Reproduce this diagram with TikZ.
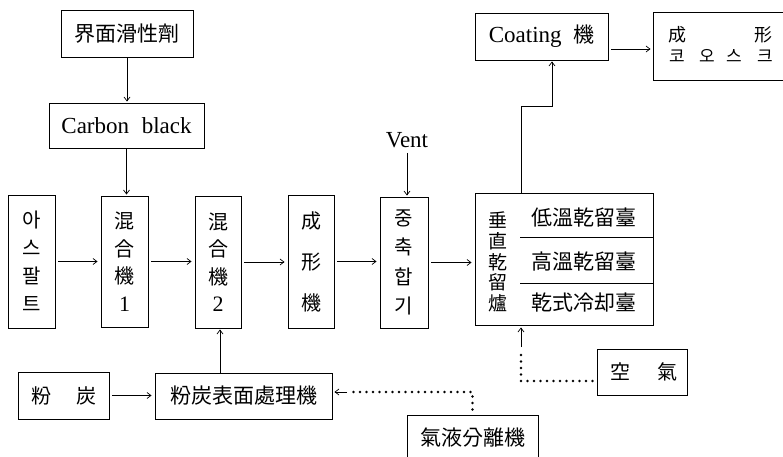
\documentclass[tikz,border=0pt]{standalone}
\usepackage{fontspec}
\setmainfont{Liberation Serif}
\newfontfamily\cjk{Noto Sans CJK KR}
\usetikzlibrary{arrows.meta}
\begin{document}
\begin{tikzpicture}[x=1pt,y=-1pt,
  box/.style={draw, line width=0.9pt, inner sep=0pt, rectangle},
  cj/.style={font=\cjk\fontsize{21}{24}\selectfont},
  vtext/.style={align=center, font=\cjk\fontsize{20}{#1}\selectfont},
  lbl/.style={inner sep=0pt},
  flow/.style={line width=0.7pt, -{Straight Barb[length=4pt,width=6pt]}},
  dots/.style={line width=2.8pt, line cap=round, dash pattern=on 0pt off 6.5pt},
]
\clip (0,0) rectangle (783,456);
\fill[white] (0,0) rectangle (783,456);
% helper coordinates
\coordinate (r49) at (0,49);
\coordinate (r392) at (0,392);
\coordinate (r381) at (0,381);
\coordinate (c220) at (220,0);
\coordinate (c521) at (521,0);
\coordinate (j1) at (521,106);
\coordinate (j2) at (552,106);
\coordinate (d1) at (347,392);
\coordinate (d2) at (352,392);
\coordinate (a1) at (521,347);
\coordinate (a2) at (521,352);

% top boxes
\node[box, cj, minimum width=132pt, minimum height=47pt] (surf) at (127,33.5) {界面滑性劑};
\node[box, minimum width=155pt, minimum height=45pt, font=\fontsize{23}{26}\selectfont] (cb) at (126.5,125.5) {Carbon\hspace{0.3em} black};

% main row
\node[box, vtext=28, minimum width=47pt, minimum height=133pt] (asp) at (31.5,261.5) {아\\스\\팔\\트};
\node[box, vtext=27.5, minimum width=47pt, minimum height=131pt] (mix1) at (124.5,261.5) {混\\合\\機\\{\rmfamily\fontsize{22}{24}\selectfont 1}};
\node[box, vtext=27.5, minimum width=46pt, minimum height=132pt] (mix2) at (218,262) {混\\合\\機\\{\rmfamily\fontsize{22}{24}\selectfont 2}};
\node[box, vtext=41, minimum width=46pt, minimum height=133pt] (form) at (311,261.5) {成\\形\\機};
\node[box, vtext=29.5, minimum width=48pt, minimum height=131pt] (poly) at (404,262.5) {중\\축\\합\\기};
\node[lbl, font=\fontsize{23}{26}\selectfont] (vent) at (407,140) {Vent};

% dryer
\node[box, minimum width=178pt, minimum height=132pt] (dry) at (564,259) {};
\node[lbl, align=center, font=\cjk\fontsize{19}{20.6}\selectfont] (dryv) at (498,262) {垂\\直\\乾\\留\\爐};
\node[lbl, cj] (low) at (583.5,218) {低溫乾留臺};
\node[lbl, cj] (high) at (583.5,262) {高溫乾留臺};
\node[lbl, cj] (cool) at (583.5,303) {乾式冷却臺};
\coordinate (s1) at (520,237);
\coordinate (s2) at (520,283);
\draw[line width=0.8pt] (s1) -- (s1 -| dry.east);
\draw[line width=0.8pt] (s2) -- (s2 -| dry.east);

% coating and coke
\node[box, minimum width=133pt, minimum height=47pt, font=\fontsize{23}{26}\selectfont] (coat) at (541.5,36.5) {Coating\hspace{0.5em}{\cjk\fontsize{21}{24}\selectfont 機}};
\node[box, minimum width=140pt, minimum height=68pt] (coke) at (723,46) {};
\node[lbl, font=\cjk\fontsize{18}{20}\selectfont] (k1) at (677,35) {成};
\node[lbl, font=\cjk\fontsize{18}{20}\selectfont] (k2) at (763,35) {形};
\node[lbl, font=\cjk\fontsize{17}{20}\selectfont] (k3) at (677,56) {코};
\node[lbl, font=\cjk\fontsize{17}{20}\selectfont] (k4) at (707,56) {오};
\node[lbl, font=\cjk\fontsize{17}{20}\selectfont] (k5) at (734,56) {스};
\node[lbl, font=\cjk\fontsize{17}{20}\selectfont] (k6) at (765,56) {크};

% bottom boxes
\node[box, minimum width=91pt, minimum height=47pt] (fine) at (63.5,395.5) {};
\node[lbl, font=\cjk\fontsize{20}{24}\selectfont] (f1) at (41,396) {粉};
\node[lbl, font=\cjk\fontsize{20}{24}\selectfont] (f2) at (86,396) {炭};
\node[box, cj, minimum width=177pt, minimum height=46pt] (treat) at (243.5,396) {粉炭表面處理機};
\node[box, minimum width=90pt, minimum height=46pt] (air) at (642,372) {};
\node[lbl, font=\cjk\fontsize{20}{24}\selectfont] (air1) at (620,372) {空};
\node[lbl, font=\cjk\fontsize{20}{24}\selectfont] (air2) at (667,372) {氣};
\node[box, minimum width=131pt, minimum height=55pt] (sep) at (472.5,442.5) {};
\node[lbl, cj] (sept) at (473,438) {氣液分離機};

% connectors
\draw[flow, shorten >=1pt] (surf.south) -- (surf.south |- cb.north);
\draw[flow, shorten >=1pt] (cb.south) -- (cb.south |- mix1.north);
\draw[flow, shorten <=3pt, shorten >=3pt] (asp.east) -- (asp.east -| mix1.west);
\draw[flow, shorten <=3pt, shorten >=3pt] (mix1.east) -- (mix1.east -| mix2.west);
\draw[flow, shorten <=3pt, shorten >=3pt] (mix2.east) -- (mix2.east -| form.west);
\draw[flow, shorten <=3pt, shorten >=3pt] (form.east) -- (form.east -| poly.west);
\draw[flow, shorten <=3pt, shorten >=3pt] (poly.east) -- (poly.east -| dry.west);
\draw[flow, shorten <=5pt, shorten >=1pt] (vent.south) -- (vent.south |- poly.north);
\draw[flow, shorten >=1pt] (c521 |- dry.north) -- (j1) -- (j2) -- (j2 |- coat.south);
\draw[flow, shorten <=3pt, shorten >=2pt] (coat.east |- r49) -- (coke.west |- r49);
\draw[flow, shorten <=3pt, shorten >=3pt] (fine.east) -- (fine.east -| treat.west);
\draw[flow, shorten >=1pt] (c220 |- treat.north) -- (c220 |- mix2.south);
% dotted lines
\draw[dots] (sep.north) ++(0,-5) -- (sep.north |- r392) -- (d2);
\draw[flow, shorten >=2pt] (d1) -- (treat.east |- d1);
\draw[dots] (air.west |- r381) ++(-4,0) -- (c521 |- r381) -- (a2);
\draw[flow, shorten >=2pt] (a1) -- (c521 |- dry.south);
\end{tikzpicture}
\end{document}
